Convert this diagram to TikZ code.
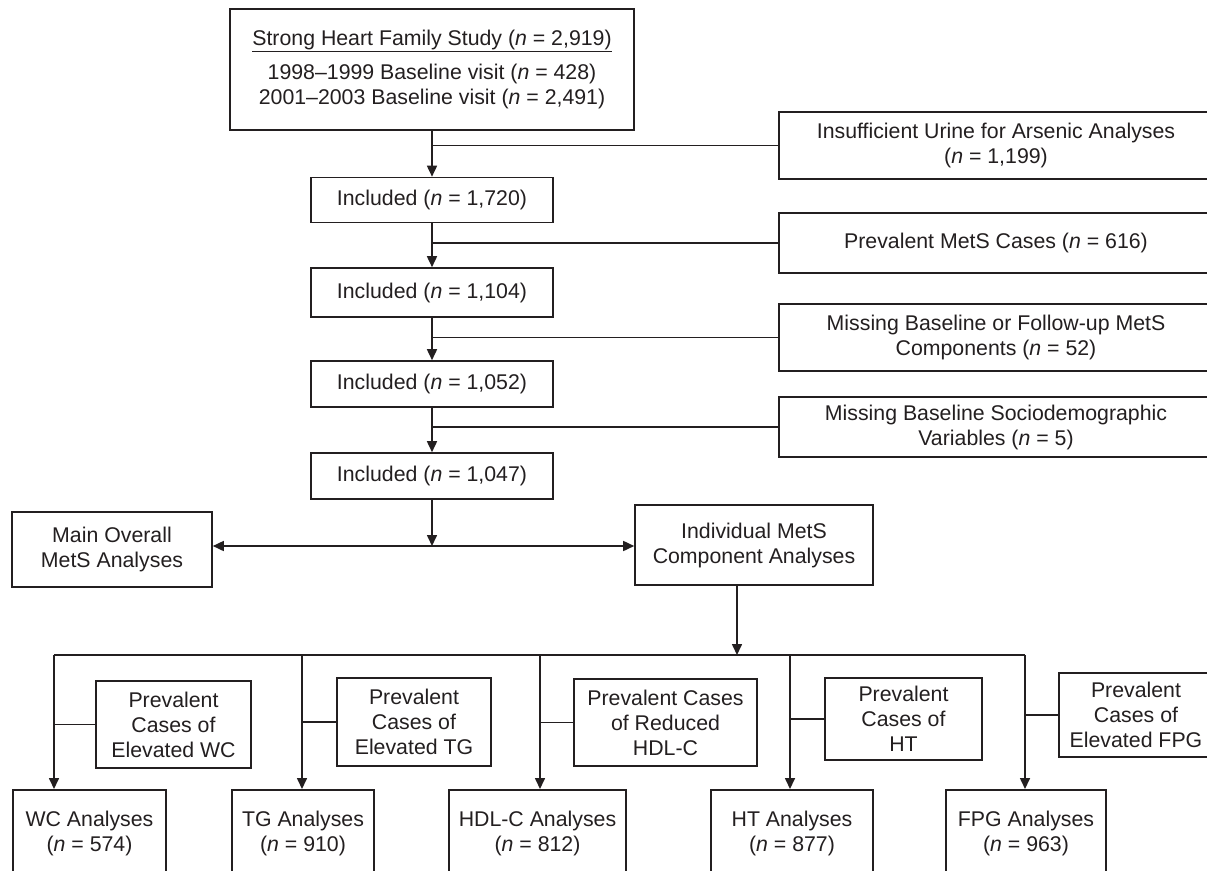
\documentclass[tikz,border=0pt]{standalone}
\usepackage{fontspec}
\setmainfont{Liberation Sans}
\usetikzlibrary{arrows.meta}
\definecolor{ink}{RGB}{35,31,32}

\begin{document}
\begin{tikzpicture}[x=1pt,y=-1pt,
	font=\fontsize{21.3}{25}\selectfont,
	color=ink,
	box/.style={draw,line width=1.6pt,align=center,inner sep=0pt},
	anbox/.style={box,anchor=north,inner ysep=21pt},
	arr/.style={line width=1.6pt,-{Triangle[length=11pt,width=10pt]}},
	conn/.style={line width=1.6pt}]
	% page and clip
	\fill[white] (0,0) rectangle (1207,870);
	\useasboundingbox (0,0) rectangle (1207,870);
	\clip (0,0) rectangle (1207,870);
	% draw main column
	\node[box,minimum width=404pt,minimum height=121pt] (study) at (432,69.5)
		{\underline{Strong Heart Family Study (\textit{n} = 2,919)}\\[9pt]
		 1998--1999 Baseline visit (\textit{n} = 428)\\
		 2001--2003 Baseline visit (\textit{n} = 2,491)};
	\node[box,minimum width=242pt,minimum height=45pt] (inc1) at (432,200) {Included (\textit{n} = 1,720)};
	\node[box,minimum width=242pt,minimum height=49pt] (inc2) at (432,292.5) {Included (\textit{n} = 1,104)};
	\node[box,minimum width=242pt,minimum height=46pt] (inc3) at (432,384) {Included (\textit{n} = 1,052)};
	\node[box,minimum width=242pt,minimum height=46pt] (inc4) at (432,476) {Included (\textit{n} = 1,047)};
	% draw exclusions
	\node[box,minimum width=434pt,minimum height=67pt] (urine) at (996,145.5)
		{Insufficient Urine for Arsenic Analyses\\(\textit{n} = 1,199)};
	\node[box,minimum width=434pt,minimum height=60pt] (prevmets) at (996,243)
		{Prevalent MetS Cases (\textit{n} = 616)};
	\node[box,minimum width=434pt,minimum height=67pt] (missfu) at (996,337.5)
		{Missing Baseline or Follow-up MetS\\Components (\textit{n} = 52)};
	\node[box,minimum width=434pt,minimum height=60pt] (misssoc) at (996,427)
		{Missing Baseline Sociodemographic\\Variables (\textit{n} = 5)};
	\draw[arr] (study) -- (inc1);
	\draw[arr] (inc1) -- (inc2);
	\draw[arr] (inc2) -- (inc3);
	\draw[arr] (inc3) -- (inc4);
	\draw[conn] (urine.west) -- (urine.west -| study.south);
	\draw[conn] (prevmets.west) -- (prevmets.west -| inc1.south);
	\draw[conn] (missfu.west) -- (missfu.west -| inc2.south);
	\draw[conn] (misssoc.west) -- (misssoc.west -| inc3.south);
	% draw split
	\node[box,minimum width=200pt,minimum height=75pt] (overall) at (112,549.5)
		{Main Overall\\MetS Analyses};
	\node[box,minimum width=238pt,minimum height=80pt] (indiv) at (754,545)
		{Individual MetS\\Component Analyses};
	\coordinate (split) at (432,546);
	\draw[arr] (inc4) -- (split);
	\draw[arr] (split) -- (split -| overall.east);
	\draw[arr] (split) -- (split -| indiv.west);
	% draw components
	\coordinate (bus) at (737,655);
	\coordinate (wcdrop) at (54,655);
	\coordinate (tgdrop) at (302,655);
	\coordinate (hdldrop) at (540,655);
	\coordinate (htdrop) at (790,655);
	\coordinate (fpgdrop) at (1025,655);
	\draw[arr] (indiv.south -| bus) -- (bus);
	\draw[conn] (wcdrop) -- (fpgdrop);
	\node[box,minimum width=155pt,minimum height=87pt] (wcprev) at (173.5,724.5) {Prevalent\\Cases of\\Elevated WC};
	\node[box,minimum width=154pt,minimum height=88pt] (tgprev) at (414,722) {Prevalent\\Cases of\\Elevated TG};
	\node[box,minimum width=183pt,minimum height=87pt] (hdlprev) at (665.5,722.5) {Prevalent Cases\\of Reduced\\HDL-C};
	\node[box,minimum width=157pt,minimum height=82pt] (htprev) at (903.5,719) {Prevalent\\Cases of\\HT};
	\node[box,minimum width=154pt,minimum height=84pt] (fpgprev) at (1136,715) {Prevalent\\Cases of\\Elevated FPG};
	\node[anbox,minimum width=153pt] (wcan) at (89.5,789) {WC Analyses\\(\textit{n} = 574)\rule[-60pt]{0pt}{0pt}};
	\node[anbox,minimum width=142pt] (tgan) at (303,789) {TG Analyses\\(\textit{n} = 910)\rule[-60pt]{0pt}{0pt}};
	\node[anbox,minimum width=177pt] (hdlan) at (537.5,789) {HDL-C Analyses\\(\textit{n} = 812)\rule[-60pt]{0pt}{0pt}};
	\node[anbox,minimum width=162pt] (htan) at (792,789) {HT Analyses\\(\textit{n} = 877)\rule[-60pt]{0pt}{0pt}};
	\node[anbox,minimum width=160pt] (fpgan) at (1026,789) {FPG Analyses\\(\textit{n} = 963)\rule[-60pt]{0pt}{0pt}};
	\foreach \c in {wc,tg,hdl,ht,fpg} {
		\draw[arr] (\c drop) -- (\c drop |- \c an.north);
		\draw[conn] (\c prev.west) -- (\c prev.west -| \c drop);
	}
\end{tikzpicture}
\end{document}
